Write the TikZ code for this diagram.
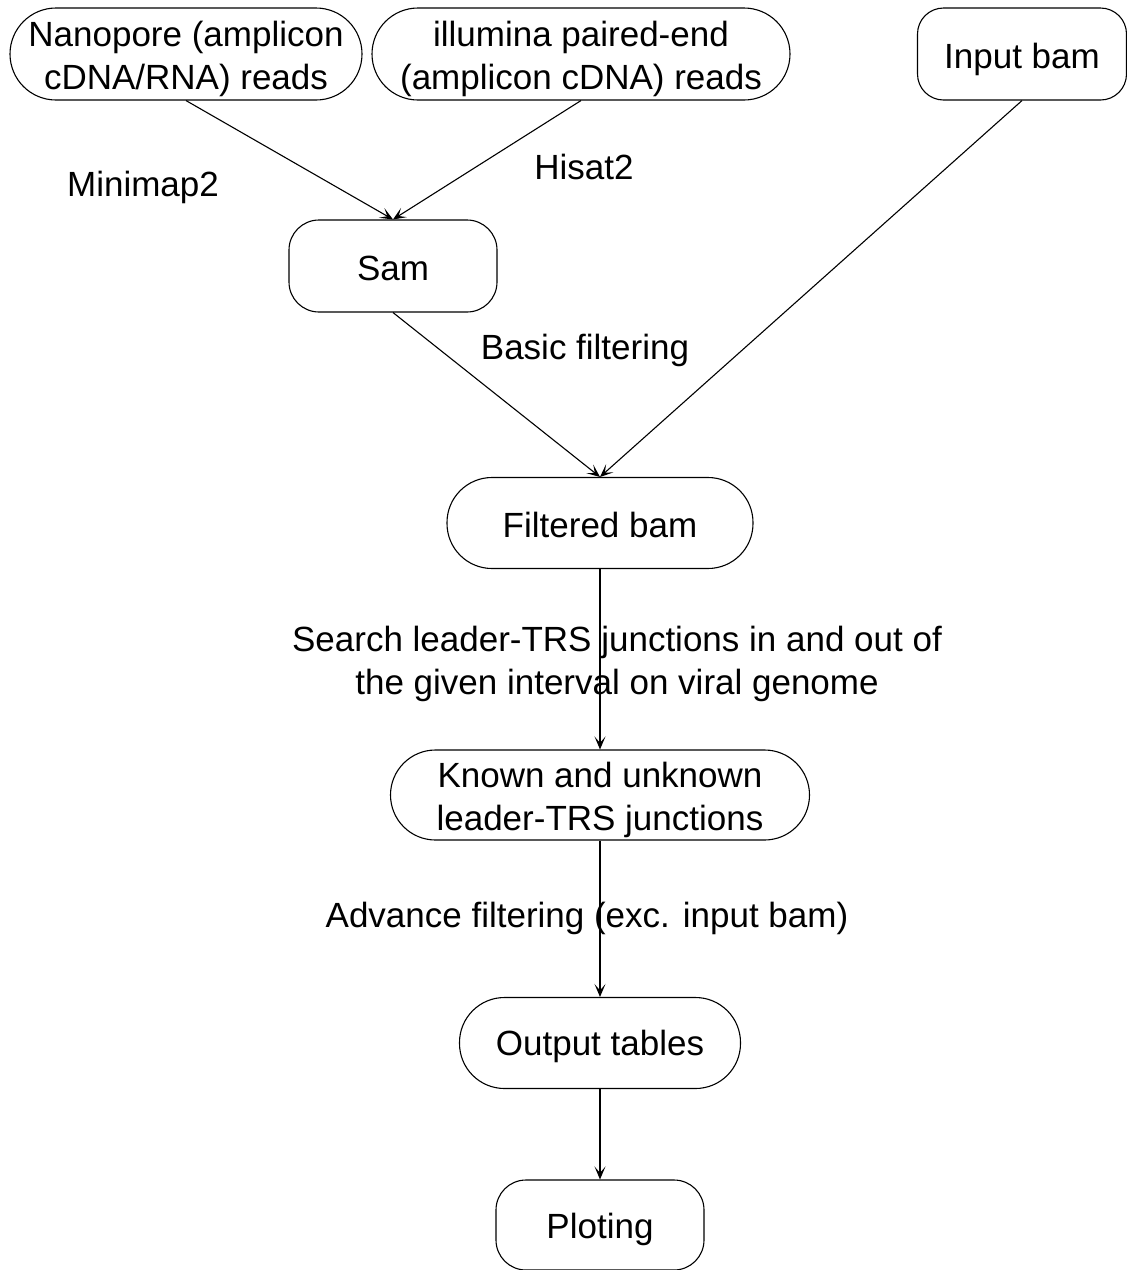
\documentclass[tikz,border=0pt]{standalone}
\usepackage{fontspec}
\setmainfont{Liberation Sans}
\usetikzlibrary{arrows.meta}
\begin{document}
\begin{tikzpicture}[x=1pt,y=-1pt,
  every node/.style={font=\fontsize{35}{43}\selectfont, align=center, inner sep=0pt},
  box/.style={draw, line width=1.1pt, rounded corners=#1},
  arr/.style={draw, line width=1.1pt, -{Stealth[length=13pt,width=11pt,inset=6.5pt]}},
  lbl/.style={}]
\useasboundingbox (0,0) rectangle (1127,1270);
\node[box=46pt, minimum width=352pt, minimum height=92pt] (nano) at (186,54) {};
\node[box=46pt, minimum width=418pt, minimum height=92pt] (illu) at (581,54) {};
\node[box=26pt, minimum width=209pt, minimum height=92pt] (inbam) at (1022,54) {};
\node[box=30pt, minimum width=208pt, minimum height=92pt] (sam) at (393,266) {};
\node[box=45pt, minimum width=306pt, minimum height=91pt] (filt) at (600,523) {};
\node[box=45pt, minimum width=419pt, minimum height=90pt] (known) at (600,795) {};
\node[box=45pt, minimum width=281pt, minimum height=91pt] (out) at (600,1043) {};
\node[box=30pt, minimum width=208pt, minimum height=90pt] (plot) at (600,1225) {};

\node (tnano) at (186,59) {Nanopore (amplicon\\cDNA/RNA) reads};
\node (tillu) at (581,59) {illumina paired-end\\(amplicon cDNA) reads};
\node (tinbam) at (1022,59) {Input bam};
\node (tsam) at (393,268) {Sam};
\node (tfilt) at (600,525) {Filtered bam};
\node (tknown) at (600,800) {Known and unknown\\leader-TRS junctions};
\node (tout) at (600,1046) {Output tables};
\node (tplot) at (600,1229) {Ploting};

\node[lbl] (l1) at (143,187) {Minimap2};
\node[lbl] (l2) at (584,167) {Hisat2};
\node[lbl] (l3) at (585,350) {Basic filtering};
\node[lbl] (l4) at (617,664) {Search leader-TRS junctions in and out of\\the given interval on viral genome};
\node[lbl] (l5) at (587,918) {Advance filtering (exc. input bam)};

\draw[arr] (nano.south) -- (sam.north);
\draw[arr] (illu.south) -- (sam.north);
\draw[arr] (inbam.south) -- (filt.north);
\draw[arr] (sam.south) -- (filt.north);
\draw[arr] (filt.south) -- (known.north);
\draw[arr] (known.south) -- (out.north);
\draw[arr] (out.south) -- (plot.north);
\end{tikzpicture}
\end{document}
